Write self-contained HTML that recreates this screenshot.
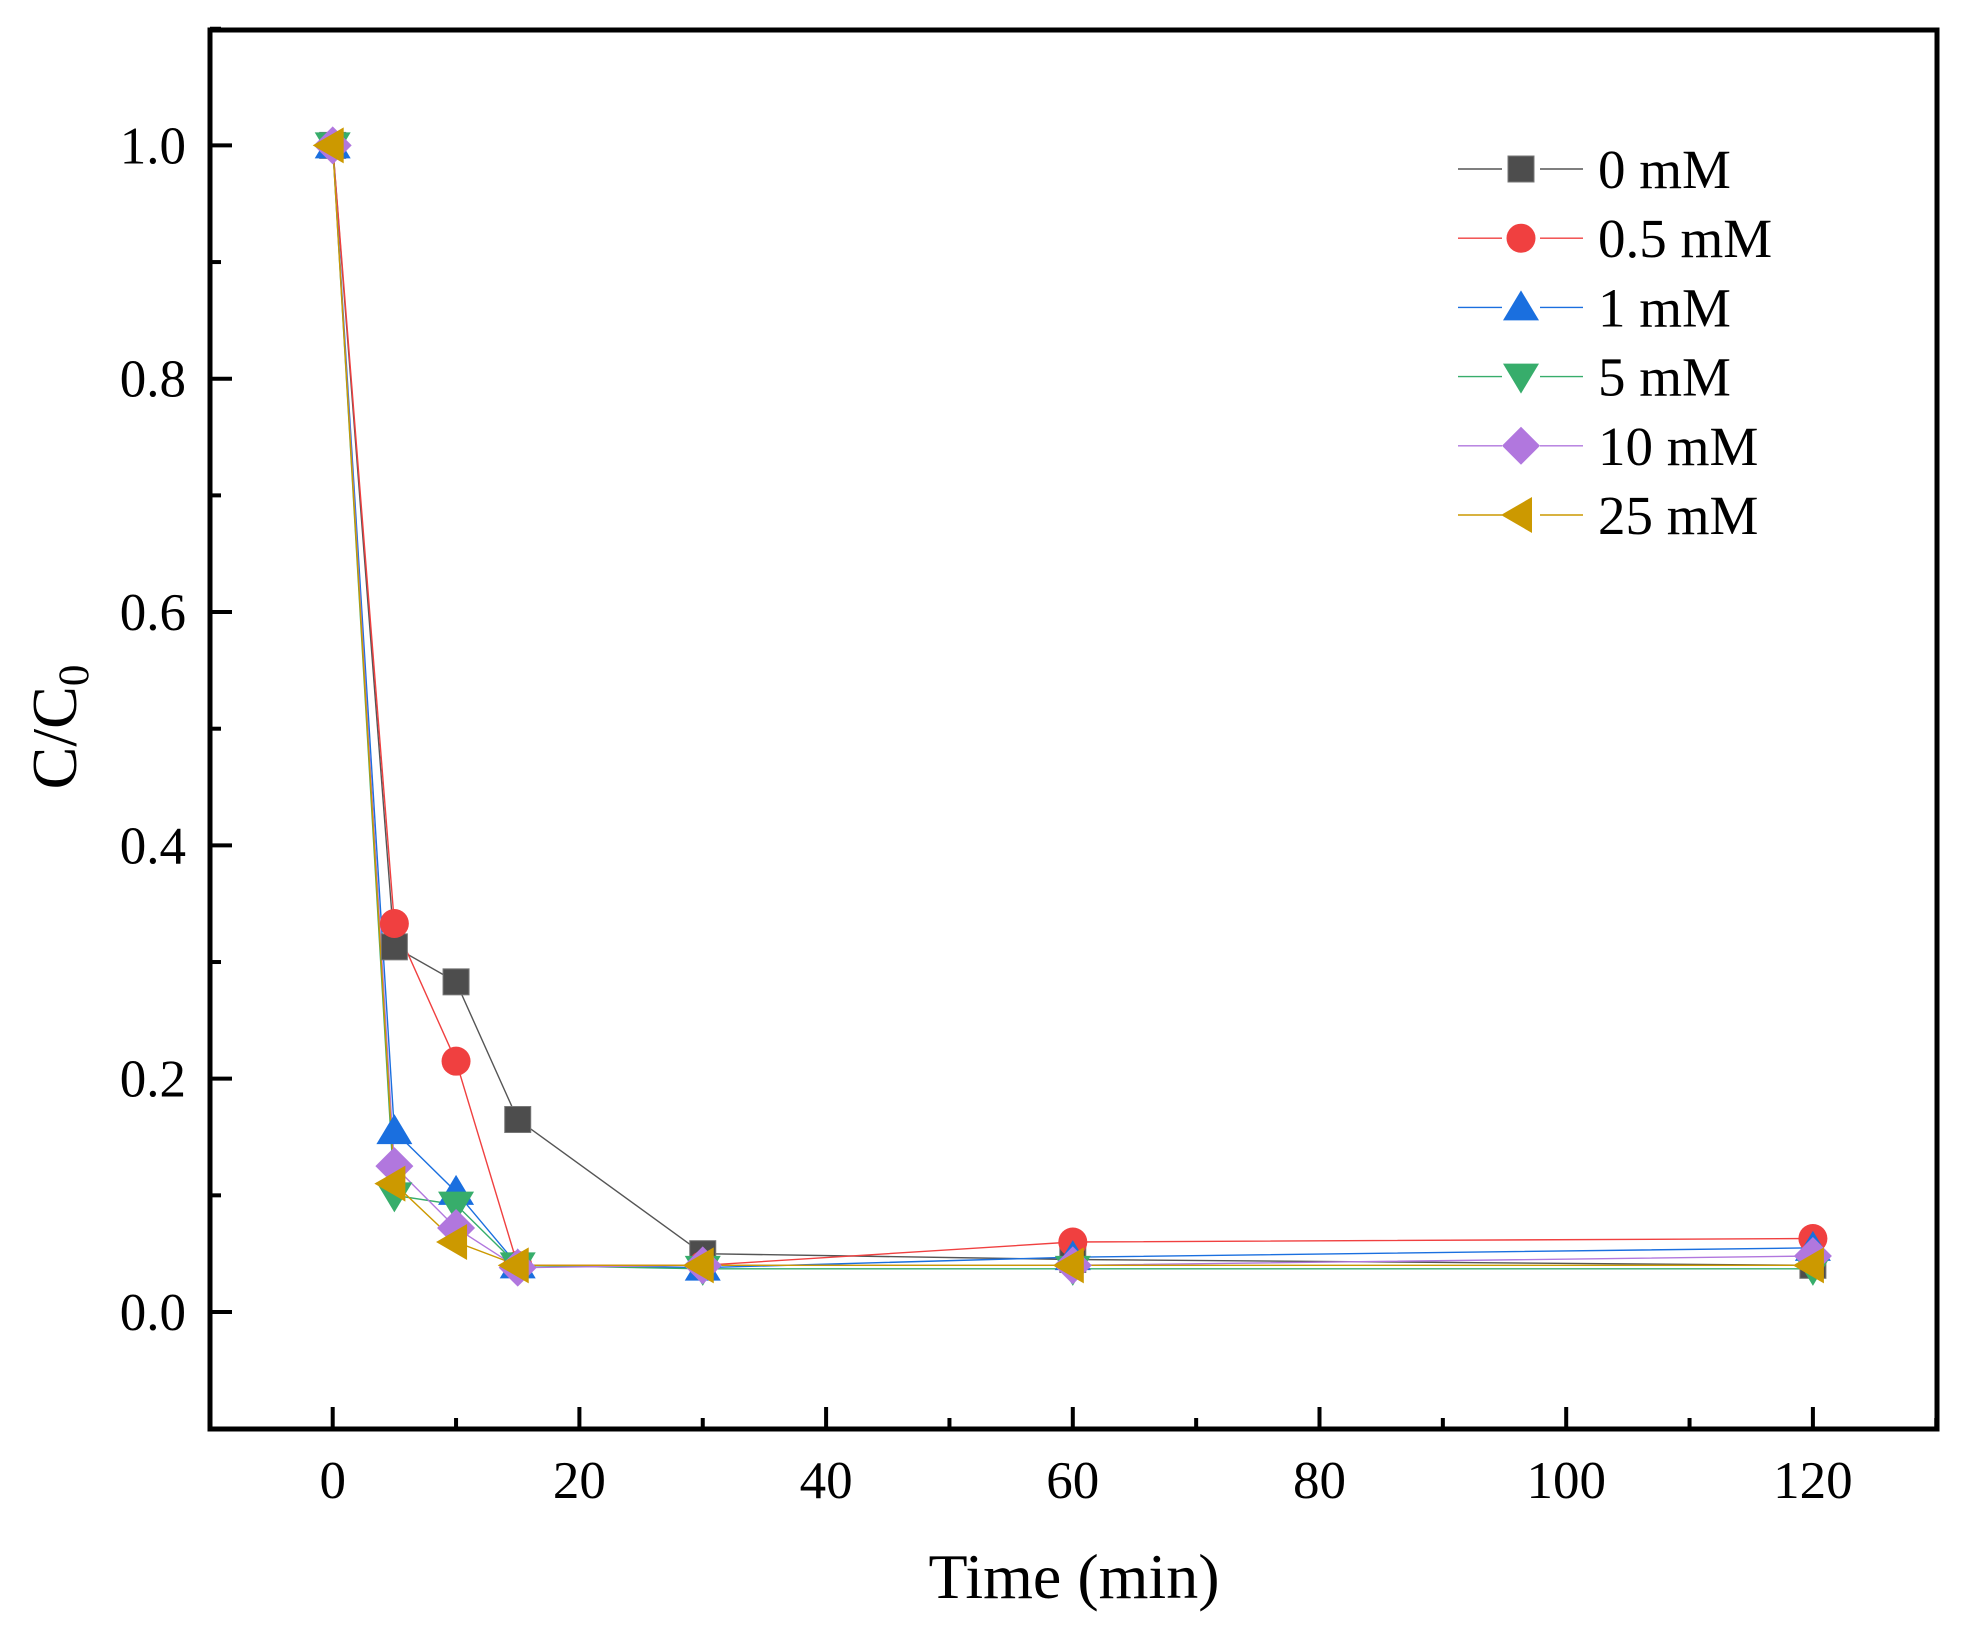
<!DOCTYPE html>
<html><head><meta charset="utf-8"><style>
html,body{margin:0;padding:0;background:#fff;}
svg{display:block;font-family:"Liberation Serif",serif;}
</style></head><body>
<svg id="s" width="1965" height="1632" viewBox="0 0 1965 1632" xmlns="http://www.w3.org/2000/svg">
<rect x="0" y="0" width="1965" height="1632" fill="#fff"/>
<g id="data"></g>
<rect x="210" y="30" width="1727" height="1399" fill="none" stroke="#000" stroke-width="5"/>
<g id="ticks" stroke="#000" stroke-width="4"></g>
<g id="labels" font-size="53" fill="#000"></g>
<text x="1074" y="1598" font-size="64" text-anchor="middle">Time (min)</text>
<text transform="translate(76,727) rotate(-90)" font-size="64" text-anchor="middle">C/C<tspan font-size="43" dy="12">0</tspan></text>
<g id="legend"></g>
</svg>
<script>
const NS="http://www.w3.org/2000/svg";
function el(p,t,a,txt){const e=document.createElementNS(NS,t);for(const k in a)e.setAttribute(k,a[k]);if(txt!==undefined)e.textContent=txt;p.appendChild(e);return e;}
const X=t=>332.7+t*12.335, Y=v=>1312-v*1166.6;
const ticks=document.getElementById('ticks'),labels=document.getElementById('labels');
for(let t=-0;t<=130;t+=10){const x=X(t);const L=t%20==0?22:11;el(ticks,'line',{x1:x,y1:1429,x2:x,y2:1429-L});
 if(t%20==0)el(labels,'text',{x:x,y:1498,'text-anchor':'middle'},String(t));}
for(let i=-1;i<=11;i++){const v=i/10,y=Y(v);const L=i%2==0?22:11;el(ticks,'line',{x1:210,y1:y,x2:210+L,y2:y});
 if(i%2==0&&i>=0)el(labels,'text',{x:186,y:y+18,'text-anchor':'end'},v.toFixed(1));}
const T=[0,5,10,15,30,60,120];
const S=[
 {c:'#4d4d4d',lc:'#555',m:'sq',d:[1,.313,.283,.165,.05,.045,.04],n:'0 mM'},
 {c:'#f04040',lc:'#f04040',m:'ci',d:[1,.333,.215,.04,.04,.06,.063],n:'0.5 mM'},
 {c:'#1a6fdf',lc:'#1a6fdf',m:'tu',d:[1,.155,.103,.04,.038,.047,.055],n:'1 mM'},
 {c:'#37ad6b',lc:'#37ad6b',m:'td',d:[1,.1,.092,.04,.037,.037,.037],n:'5 mM'},
 {c:'#b177de',lc:'#b177de',m:'di',d:[1,.125,.072,.038,.04,.04,.048],n:'10 mM'},
 {c:'#cc9900',lc:'#cc9900',m:'tl',d:[1,.11,.06,.04,.04,.04,.04],n:'25 mM'}];
function mk(g,m,x,y,c){
 if(m=='sq')el(g,'rect',{x:x-13,y:y-13,width:26,height:26,fill:c,stroke:'#777','stroke-width':1});
 else if(m=='ci')el(g,'circle',{cx:x,cy:y,r:14.5,fill:c});
 else if(m=='tu')el(g,'polygon',{points:`${x},${y-17} ${x+18},${y+13} ${x-18},${y+13}`,fill:c});
 else if(m=='td')el(g,'polygon',{points:`${x},${y+17} ${x+18},${y-13} ${x-18},${y-13}`,fill:c});
 else if(m=='di')el(g,'polygon',{points:`${x},${y-19} ${x+19},${y} ${x},${y+19} ${x-19},${y}`,fill:c});
 else if(m=='tl')el(g,'polygon',{points:`${x-20},${y} ${x+11},${y-18} ${x+11},${y+18}`,fill:c});}
const data=document.getElementById('data');
S.forEach(s=>{el(data,'polyline',{points:T.map((t,i)=>X(t)+','+Y(s.d[i])).join(' '),fill:'none',stroke:s.lc,'stroke-width':1.4});});
S.forEach(s=>{T.forEach((t,i)=>mk(data,s.m,X(t),Y(s.d[i]),s.c));});
const lg=document.getElementById('legend');
S.forEach((s,i)=>{const y=169+i*69.2;
 el(lg,'line',{x1:1458,y1:y,x2:1502,y2:y,stroke:s.lc,'stroke-width':1.4});
 el(lg,'line',{x1:1540,y1:y,x2:1583,y2:y,stroke:s.lc,'stroke-width':1.4});
 mk(lg,s.m,1521,y,s.c);
 el(lg,'text',{x:1598,y:y+19,'font-size':55},s.n);});
</script>
</body></html>
